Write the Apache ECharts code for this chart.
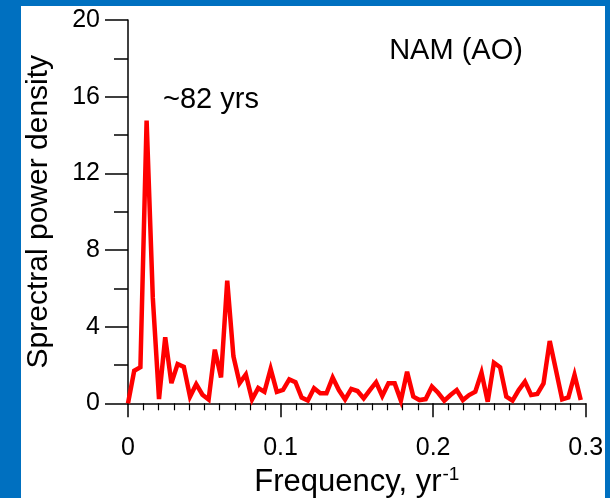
<!DOCTYPE html>
<html>
<head>
<meta charset="utf-8">
<script src="https://cdn.jsdelivr.net/npm/echarts@6/dist/echarts.min.js"></script>
<style>
  html, body { margin: 0; padding: 0; width: 610px; height: 498px; background: #0070c0; overflow: hidden; }
  #panel { position: absolute; left: 21px; top: 6px; width: 584px; height: 492px; background: #ffffff; }
</style>
</head>
<body>
<div id="panel"></div>
<script>
// Periodogram of the NAM (AO) index: one estimate per Fourier frequency k / recordYears.
const recordYears = 246;
const spectralPower = [
  0.00, 1.70, 1.88, 14.75, 5.50, 0.22, 3.45, 1.05, 2.05, 1.90,
  0.35, 1.00, 0.45, 0.20, 2.80, 1.35, 6.40, 2.45, 1.05, 1.50,
  0.20, 0.80, 0.60, 1.80, 0.60, 0.70, 1.25, 1.10, 0.30, 0.14,
  0.78, 0.52, 0.52, 1.34, 0.69, 0.20, 0.75, 0.64, 0.26, 0.69,
  1.10, 0.38, 1.04, 1.04, 0.14, 1.65, 0.35, 0.17, 0.22, 0.87,
  0.55, 0.14, 0.43, 0.69, 0.17, 0.43, 0.60, 1.60, 0.08, 2.12,
  1.88, 0.35, 0.14, 0.69, 1.13, 0.43, 0.49, 1.04, 3.25, 1.74,
  0.21, 0.31, 1.48, 0.17
];
const xTickValues = [0, 0.1, 0.2, 0.3];
const xTickLabels = ['0', '0.1', '0.2', '0.3'];
const yTickValues = [0, 4, 8, 12, 16, 20];
const yTickLabels = ['0', '4', '8', '12', '16', '20'];
const panelTitle = 'NAM (AO)';
const peakNote = '~82 yrs';

const FONT = '"Liberation Sans", Arial, Helvetica, sans-serif';

// Pair each estimate with its frequency (cycles per year).
const seriesData = spectralPower.map((v, k) => [k / recordYears, v]);

function labelFor(values, labels) {
  return function (val) {
    for (let i = 0; i < values.length; i++) {
      if (Math.abs(values[i] - val) < 1e-9) return labels[i];
    }
    return '';
  };
}

const chart = echarts.init(document.getElementById('panel'), null, { renderer: 'canvas' });

chart.setOption({
  animation: false,
  backgroundColor: 'transparent',
  textStyle: { fontFamily: FONT },
  grid: { left: 107, top: 14, right: 19.3, bottom: 94.7, containLabel: false, outerBoundsMode: 'none' },
  xAxis: {
    type: 'value',
    min: xTickValues[0],
    max: xTickValues[xTickValues.length - 1],
    interval: 0.1,
    name: '{a|Frequency, yr}{s|-1}',
    nameLocation: 'middle',
    nameGap: 58,
    nameTextStyle: {
      rich: {
        a: { fontFamily: FONT, fontSize: 31, color: '#000', lineHeight: 35 },
        s: { fontFamily: FONT, fontSize: 19, color: '#000', lineHeight: 35, verticalAlign: 'top', padding: [0, 0, 0, 1] }
      }
    },
    axisLine: { show: true, onZero: false, lineStyle: { color: '#000', width: 1.5 } },
    axisTick: { show: true, inside: false, length: 14, lineStyle: { color: '#000', width: 1.5 } },
    minorTick: { show: true, splitNumber: 10, length: 7, lineStyle: { color: '#000', width: 1.2 } },
    splitLine: { show: false },
    minorSplitLine: { show: false },
    axisLabel: {
      margin: 32,
      fontFamily: FONT,
      fontSize: 25,
      color: '#000',
      formatter: labelFor(xTickValues, xTickLabels),
      showMinLabel: true,
      showMaxLabel: true
    }
  },
  yAxis: {
    type: 'value',
    min: yTickValues[0],
    max: yTickValues[yTickValues.length - 1],
    interval: 4,
    name: 'Sprectral power density',
    nameLocation: 'middle',
    nameGap: 74,
    nameRotate: 90,
    nameTextStyle: { fontFamily: FONT, fontSize: 30, color: '#000' },
    axisLine: { show: true, onZero: false, lineStyle: { color: '#000', width: 1.5 } },
    axisTick: { show: true, inside: false, length: 23, lineStyle: { color: '#000', width: 1.5 } },
    minorTick: { show: true, splitNumber: 2, length: 14, lineStyle: { color: '#000', width: 1.5 } },
    splitLine: { show: false },
    minorSplitLine: { show: false },
    axisLabel: {
      margin: 28,
      fontFamily: FONT,
      fontSize: 25,
      color: '#000',
      formatter: labelFor(yTickValues, yTickLabels)
    }
  },
  graphic: [
    {
      type: 'text',
      x: 435, y: 45,
      style: { text: panelTitle, fontFamily: FONT, fontSize: 29, fill: '#000', align: 'center', verticalAlign: 'middle' }
    },
    {
      type: 'text',
      x: 190, y: 94,
      style: { text: peakNote, fontFamily: FONT, fontSize: 29, fill: '#000', align: 'center', verticalAlign: 'middle' }
    }
  ],
  series: [{
    type: 'line',
    data: seriesData,
    showSymbol: false,
    symbol: 'none',
    clip: false,
    lineStyle: { color: '#ff0000', width: 4.5, join: 'miter', miterLimit: 4 },
    z: 3
  }]
});
</script>
</body>
</html>
